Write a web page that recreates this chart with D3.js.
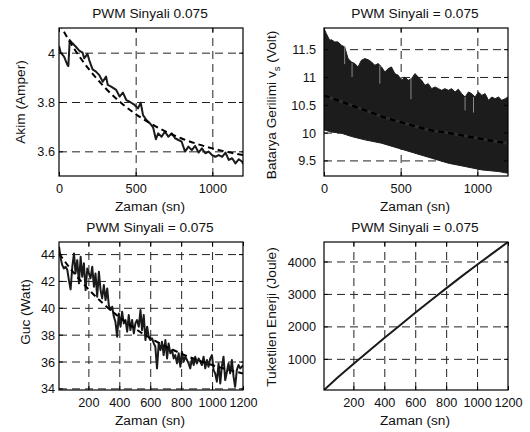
<!DOCTYPE html>
<html><head><meta charset="utf-8">
<script src="https://cdn.jsdelivr.net/npm/d3@7/dist/d3.min.js"></script>
<style>
body{margin:0;background:#fff;}
svg{display:block;}
svg text{font-family:"Liberation Sans",Arial,sans-serif;}
</style></head>
<body>
<svg id="c" width="530" height="432"></svg>
<script>
// ---------- DATA ----------
const titles = ["PWM Sinyali 0.075","PWM Sinyali = 0.075","PWM Sinyali = 0.075","PWM Sinyali = 0.075"];
const xLabel = "Zaman (sn)";

// Panel 1: Akim (current)
const currentT = [0,11,33,55,61,70,88,110,132,154,164,186,197,219,241,263,285,307,318,340,373,395,417,439,461,493,515,533,548,570,592,614,632,647,669,691,713,735,757,779,800,822,844,866,888,910,932,954,976,998,1020,1042,1064,1086,1107,1129,1151,1173,1195,1200];
const currentV = [4.027,4.000,3.984,3.950,3.946,4.051,4.038,4.024,4.008,4.000,3.977,3.995,3.970,3.932,3.923,3.909,3.882,3.903,3.869,3.862,3.849,3.822,3.838,3.808,3.801,3.788,3.774,3.797,3.747,3.727,3.714,3.697,3.649,3.673,3.659,3.680,3.659,3.673,3.653,3.646,3.639,3.599,3.619,3.605,3.622,3.595,3.612,3.592,3.599,3.585,3.578,3.585,3.578,3.595,3.565,3.572,3.551,3.568,3.558,3.549];
const currentFitT = [0,100,200,300,400,500,600,700,800,900,1000,1100,1200];
const currentFitV = [4.120,4.015,3.929,3.858,3.799,3.751,3.712,3.679,3.652,3.630,3.612,3.597,3.585];
const currentXTicks = [0,500,1000];
const currentYTicks = [3.6,3.8,4];

// Panel 2: Batarya gerilimi (voltage band)
const voltUpperT = [0,15,37,48,70,92,113,135,157,179,201,222,244,266,288,310,331,353,375,397,419,440,462,484,506,528,549,571,593,615,637,658,680,702,724,746,767,789,811,833,855,876,898,920,942,964,985,1007,1029,1051,1073,1094,1116,1138,1160,1182,1200];
const voltUpperV = [11.87,11.78,11.66,11.67,11.63,11.63,11.57,11.54,11.33,11.27,11.24,11.18,11.30,11.33,11.31,11.27,11.21,11.24,11.18,11.09,11.15,11.18,11.06,11.03,10.94,11.00,10.94,10.97,11.06,11.00,10.94,10.85,10.88,10.79,10.82,10.79,10.76,10.79,10.76,10.79,10.73,10.78,10.70,10.64,10.73,10.70,10.64,10.73,10.67,10.70,10.58,10.64,10.61,10.64,10.58,10.61,10.64];
const voltLowerT = [0,48,113,179,266,375,484,593,702,811,920,1029,1138,1200];
const voltLowerV = [10.05,10.01,9.99,9.93,9.87,9.81,9.72,9.63,9.54,9.45,9.39,9.33,9.30,9.27];
const voltFitT = [0,100,200,300,400,500,600,700,800,900,1000,1100,1200];
const voltFitV = [10.67,10.57,10.47,10.37,10.27,10.19,10.11,10.04,10.00,9.95,9.90,9.85,9.81];
const voltStreakT = [135,183,364,567,920,975];
const voltStreakTop = [11.55,11.25,11.20,10.97,10.64,10.64];
const voltStreakBottom = [11.23,11.00,10.88,10.60,10.40,10.36];
const voltXTicks = [0,500,1000];
const voltYTicks = [9.5,10,10.5,11,11.5];

// Panel 3: Guc (power)
const powerT = [10,21,31,42,53,64,74,85,96,107,117,128,139,150,160,171,182,193,203,214,225,236,246,257,268,279,289,300,311,322,332,343,354,365,375,386,397,408,418,429,440,451,461,472,483,494,504,515,526,537,547,558,569,580,590,601,612,623,633,644,655,666,676,687,698,709,719,730,741,752,762,773,784,795,805,816,827,838,848,859,870,881,891,902,913,924,934,945,956,967,977,988,999,1010,1020,1031,1042,1053,1063,1074,1085,1096,1106,1117,1128,1139,1149,1160,1171,1182,1192,1200];
const powerV = [44.55,43.68,43.18,42.93,43.06,42.81,42.06,41.37,43.06,44.05,42.56,43.55,41.82,43.80,42.31,43.31,41.32,42.93,42.56,42.19,43.06,41.57,42.56,40.82,42.68,41.32,40.70,41.69,40.58,41.44,40.20,39.83,40.08,39.33,38.96,37.85,39.58,38.59,39.71,38.84,39.09,38.22,39.46,38.34,39.09,38.09,38.84,39.09,38.59,39.83,38.34,39.46,37.60,38.59,37.85,37.60,37.72,37.35,37.10,35.49,37.35,36.85,37.47,36.48,37.60,36.23,37.35,36.61,36.85,36.23,36.48,35.86,36.61,35.61,36.73,35.99,36.36,36.11,35.86,35.49,36.23,35.74,36.36,35.86,36.23,35.99,35.74,36.36,35.49,36.11,35.61,36.23,36.48,35.36,35.12,34.50,35.86,34.37,35.61,36.36,34.62,35.24,35.86,35.12,36.11,34.87,34.12,35.36,35.74,35.49,35.61,35.70];
const powerFitT = [10,100,200,300,400,500,600,700,800,900,1000,1100,1200];
const powerFitV = [44.04,42.68,41.39,40.27,39.30,38.47,37.75,37.13,36.59,36.13,35.74,35.40,35.11];
const powerXTicks = [200,400,600,800,1000,1200];
const powerYTicks = [34,36,38,40,42,44];

// Panel 4: Tuketilen enerji (energy)
const energyT = [10,100,200,300,400,500,600,700,800,900,1000,1100,1200];
const energyV = [40,430,840,1240,1640,2030,2420,2800,3170,3540,3900,4250,4600];
const energyXTicks = [200,400,600,800,1000,1200];
const energyYTicks = [1000,2000,3000,4000];

// ---------- DRAW ----------
const svg = d3.select("#c");
const FONT = "Liberation Sans, Arial, sans-serif";
const TICKF = 12.7, LABF = 13.7;

function panel(o){
  const g = svg.append("g").attr("font-family", FONT);
  const x = d3.scaleLinear().domain(o.xd).range([o.x0, o.x1]);
  const y = d3.scaleLinear().domain(o.yd).range([o.y1, o.y0]);
  const id = "clip" + o.id;
  svg.append("clipPath").attr("id", id).append("rect")
     .attr("x", o.x0).attr("y", o.y0).attr("width", o.x1-o.x0).attr("height", o.y1-o.y0);
  // grid
  const grid = g.append("g");
  grid.append("g").attr("transform",`translate(0,${o.y1})`)
    .call(d3.axisBottom(x).tickValues(o.xt.filter(v=>x(v)>o.x0+1 && x(v)<o.x1-1)).tickSize(-(o.y1-o.y0)).tickFormat(""))
    .call(s=>s.select(".domain").remove());
  grid.append("g").attr("transform",`translate(${o.x0},0)`)
    .call(d3.axisLeft(y).tickValues(o.yt.filter(v=>y(v)>o.y0+1 && y(v)<o.y1-1)).tickSize(-(o.x1-o.x0)).tickFormat(""))
    .call(s=>s.select(".domain").remove());
  grid.selectAll("line").attr("stroke","#222").attr("stroke-width",1).attr("stroke-dasharray","8,5");
  // data
  const dg = g.append("g").attr("clip-path",`url(#${id})`);
  o.draw(dg, x, y);
  // frame
  g.append("rect").attr("x",o.x0).attr("y",o.y0).attr("width",o.x1-o.x0).attr("height",o.y1-o.y0)
    .attr("fill","none").attr("stroke","#000").attr("stroke-width",1.2);
  // inner ticks on all sides
  const tk = g.append("g");
  tk.append("g").attr("transform",`translate(0,${o.y1})`).call(d3.axisBottom(x).tickValues(o.xt).tickSize(-4).tickFormat(""));
  tk.append("g").attr("transform",`translate(0,${o.y0})`).call(d3.axisTop(x).tickValues(o.xt).tickSize(-4).tickFormat(""));
  tk.append("g").attr("transform",`translate(${o.x0},0)`).call(d3.axisLeft(y).tickValues(o.yt).tickSize(-4).tickFormat(""));
  tk.append("g").attr("transform",`translate(${o.x1},0)`).call(d3.axisRight(y).tickValues(o.yt).tickSize(-4).tickFormat(""));
  tk.selectAll(".domain").remove();
  tk.selectAll("line").attr("stroke","#000").attr("stroke-width",1);
  // tick labels
  const xl = g.append("g").attr("transform",`translate(0,${o.y1})`)
    .call(d3.axisBottom(x).tickValues(o.xt).tickSize(0).tickPadding(0).tickFormat(d3.format("")));
  xl.attr("font-family", FONT).attr("font-size", TICKF);
  xl.select(".domain").remove();
  xl.selectAll("text").attr("y",17).attr("dy",null).attr("fill","#111");
  const yl = g.append("g").attr("transform",`translate(${o.x0},0)`)
    .call(d3.axisLeft(y).tickValues(o.yt).tickSize(0).tickPadding(o.ypad).tickFormat(d3.format("")));
  yl.attr("font-family", FONT).attr("font-size", TICKF);
  yl.select(".domain").remove();
  yl.selectAll("text").attr("fill","#111").attr("dy","0.36em");
  // title
  g.append("text").attr("x",(o.x0+o.x1)/2 - 1).attr("y",o.y0-10).attr("text-anchor","middle")
    .attr("font-size",LABF).attr("fill","#111").text(o.title);
  // x label
  g.append("text").attr("x",(o.x0+o.x1)/2 - 1).attr("y",o.y1+35).attr("text-anchor","middle")
    .attr("font-size",LABF).attr("fill","#111").text(xLabel);
  // y label
  const t = g.append("text").attr("transform",`translate(${o.ylx},${o.lyc}) rotate(-90)`)
    .attr("text-anchor","middle").attr("font-size",LABF).attr("fill","#111");
  o.ylab(t);
}

const lineBlack = (sel)=>sel.attr("fill","none").attr("stroke","#1a1a1a").attr("stroke-width",2).attr("stroke-linejoin","round");
const fitStyle = (sel)=>sel.attr("fill","none").attr("stroke","#000").attr("stroke-width",2).attr("stroke-dasharray","6,4");

panel({id:1, x0:59, x1:243, y0:28, y1:176, xd:[0,1200], yd:[3.5,4.1], xt:currentXTicks, yt:currentYTicks,
  ypad:4, ylx:25, lyc:102, title:titles[0],
  ylab:t=>t.text("Akim (Amper)"),
  draw:(g,x,y)=>{
    const ln = d3.line().x(d=>x(d[0])).y(d=>y(d[1]));
    g.append("path").datum(currentT.map((t,i)=>[t,currentV[i]])).attr("d",ln).call(lineBlack);
    g.append("path").datum(currentFitT.map((t,i)=>[t,currentFitV[i]])).attr("d",d3.line().curve(d3.curveMonotoneX).x(d=>x(d[0])).y(d=>y(d[1]))).call(fitStyle);
  }});

panel({id:2, x0:324, x1:508, y0:28, y1:176, xd:[0,1200], yd:[9.22,11.88], xt:voltXTicks, yt:voltYTicks,
  ypad:8, ylx:276, lyc:105, title:titles[1],
  ylab:t=>{ t.append("tspan").text("Batarya Gerilimi v");
            t.append("tspan").attr("dy",4).attr("font-size",9.5).text("s");
            t.append("tspan").attr("dy",-4).text(" (Volt)"); },
  draw:(g,x,y)=>{
    const pts = voltUpperT.map((t,i)=>[t,voltUpperV[i]])
      .concat(voltLowerT.map((t,i)=>[t,voltLowerV[i]]).reverse());
    const bandLine = d3.line().x(d=>x(d[0])).y(d=>y(d[1]));
    g.append("path").datum(pts).attr("d",d=>bandLine(d)+"Z")
      .attr("fill","#1c1c1c").attr("stroke","#1c1c1c").attr("stroke-width",1);
    g.selectAll("line.st").data(voltStreakT).join("line").attr("class","st")
      .attr("x1",d=>x(d)).attr("x2",d=>x(d))
      .attr("y1",(d,i)=>y(voltStreakTop[i])).attr("y2",(d,i)=>y(voltStreakBottom[i]))
      .attr("stroke","#8a8a8a").attr("stroke-width",1);
    const fitLine = d3.line().curve(d3.curveMonotoneX).x(d=>x(d[0])).y(d=>y(d[1]));
    const fd = voltFitT.map((t,i)=>[t,voltFitV[i]]);
    g.append("path").datum(fd).attr("d",fitLine)
      .attr("fill","none").attr("stroke","#2e2e2e").attr("stroke-width",3);
    g.append("path").datum(fd).attr("d",fitLine)
      .attr("fill","none").attr("stroke","#000").attr("stroke-width",2.5).attr("stroke-dasharray","6,4");
  }});

panel({id:3, x0:59, x1:243, y0:242, y1:390, xd:[10,1200], yd:[33.88,44.9], xt:powerXTicks, yt:powerYTicks,
  ypad:4, ylx:30, lyc:312, title:titles[2],
  ylab:t=>t.text("Guc (Watt)"),
  draw:(g,x,y)=>{
    g.append("path").datum(powerT.map((t,i)=>[t,powerV[i]])).attr("d",d3.line().x(d=>x(d[0])).y(d=>y(d[1]))).call(lineBlack);
    g.append("path").datum(powerFitT.map((t,i)=>[t,powerFitV[i]])).attr("d",d3.line().curve(d3.curveMonotoneX).x(d=>x(d[0])).y(d=>y(d[1]))).call(fitStyle);
  }});

panel({id:4, x0:324, x1:508, y0:242, y1:390, xd:[10,1200], yd:[40,4600], xt:energyXTicks, yt:energyYTicks,
  ypad:8, ylx:276, lyc:317, title:titles[3],
  ylab:t=>t.text("Tuketilen Enerji (Joule)"),
  draw:(g,x,y)=>{
    g.append("path").datum(energyT.map((t,i)=>[t,energyV[i]])).attr("d",d3.line().x(d=>x(d[0])).y(d=>y(d[1]))).call(lineBlack);
  }});
</script>
</body></html>
